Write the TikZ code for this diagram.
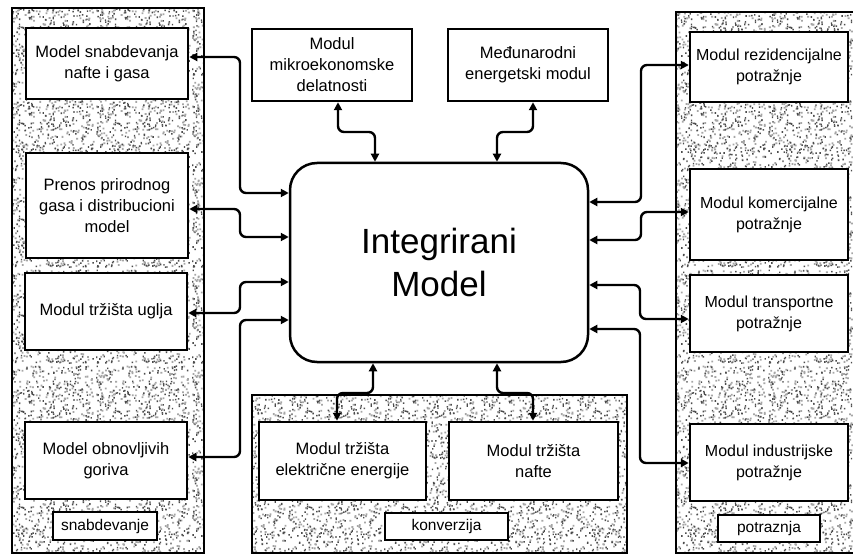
\documentclass[tikz,border=0pt]{standalone}
\usepackage{fontspec}
\setmainfont{Liberation Sans}
\usetikzlibrary{arrows.meta,patterns}
\pgfdeclarepatternformonly{speckA}{\pgfpointorigin}{\pgfqpoint{96pt}{96pt}}{\pgfqpoint{96pt}{96pt}}{%
  \pgfmathsetseed{11}%
  \foreach \i in {1,...,320}{%
    \pgfmathsetmacro\xa{rnd*94}\pgfmathsetmacro\ya{rnd*94}%
    \pgfpathrectangle{\pgfqpoint{\xa pt}{\ya pt}}{\pgfqpoint{1.4pt}{1.6pt}}\pgfusepath{fill}}}
\pgfdeclarepatternformonly{speckB}{\pgfpointorigin}{\pgfqpoint{96pt}{96pt}}{\pgfqpoint{96pt}{96pt}}{%
  \pgfmathsetseed{23}%
  \foreach \i in {1,...,320}{%
    \pgfmathsetmacro\xa{rnd*94}\pgfmathsetmacro\ya{rnd*94}%
    \pgfpathrectangle{\pgfqpoint{\xa pt}{\ya pt}}{\pgfqpoint{1.8pt}{1.8pt}}\pgfusepath{fill}}}
\tikzset{
  box/.style={draw, line width=2.5pt, fill=white, inner sep=0pt, align=center,
    font=\fontsize{16.5}{21}\selectfont},
  rbox/.style={box, font=\fontsize{16}{21}\selectfont},
  lbl/.style={draw, line width=2.3pt, fill=white, inner sep=0pt,
    font=\fontsize{15.5}{18}\selectfont},
  panel/.style={draw, line width=2.5pt},
  speck/.style={pattern=speckA, pattern color=black!70},
  speckb/.style={pattern=speckB, pattern color=black!35},
  conn/.style={line width=2.4pt, rounded corners=6pt,
    {Triangle[length=8pt,width=8pt]}-{Triangle[length=8pt,width=8pt]}},
}
\begin{document}
\begin{tikzpicture}[x=1pt,y=-1pt]
\useasboundingbox (0,0) rectangle (853,556);
% panels
\fill[white] (12,8) rectangle (204,553);
\fill[speckb] (12,8) rectangle (204,553);
\fill[speck] (12,8) rectangle (204,553);
\draw[panel] (12,8) rectangle (204,553);
\fill[white] (676,12) rectangle (858,553);
\fill[speckb] (676,12) rectangle (858,553);
\fill[speck] (676,12) rectangle (858,553);
\draw[panel] (676,12) rectangle (858,553);
\fill[white] (252,395) rectangle (627,553);
\fill[speckb] (252,395) rectangle (627,553);
\fill[speck] (252,395) rectangle (627,553);
\draw[panel] (252,395) rectangle (627,553);

% left boxes
\node[box, minimum width=162pt, minimum height=71pt] (sn) at (107,63.5) {Model snabdevanja\\nafte i gasa};
\node[box, minimum width=162pt, minimum height=105pt] (pg) at (107,205.5) {Prenos prirodnog\\gasa i distribucioni\\model};
\node[box, minimum width=162pt, minimum height=77pt] (tu) at (106,311.5) {Modul tržišta uglja};
\node[box, minimum width=162pt, minimum height=77pt] (og) at (106,460.5) {Model obnovljivih\\goriva};
\node[lbl, minimum width=104pt, minimum height=28pt] (ls) at (105,526) {snabdevanje};

% top boxes
\node[box, minimum width=160pt, minimum height=72pt] (mk) at (332,65) {Modul\\mikroekonomske\\delatnosti};
\node[box, minimum width=160pt, minimum height=72pt] (me) at (528,65) {Međunarodni\\energetski modul};

% central
\node[draw, line width=2.5pt, rounded corners=27pt, fill=white, minimum width=298pt, minimum height=199pt,
  align=center, font=\fontsize{35}{43}\selectfont] (ce) at (439,262.5) {Integrirani\\Model};

% right boxes
\node[rbox, minimum width=158pt, minimum height=70pt] (rz) at (769,67) {Modul rezidencijalne\\potražnje};
\node[rbox, minimum width=158pt, minimum height=91pt] (ko) at (769,214.5) {Modul komercijalne\\potražnje};
\node[rbox, minimum width=158pt, minimum height=77pt] (tr) at (769,313.5) {Modul transportne\\potražnje};
\node[rbox, minimum width=158pt, minimum height=77pt] (in) at (769,462.5) {Modul industrijske\\potražnje};
\node[lbl, minimum width=102pt, minimum height=27pt] (lp) at (769,528.5) {potraznja};

% bottom boxes
\node[box, minimum width=167pt, minimum height=78pt] (el) at (342.5,461) {Modul tržišta\\električne energije};
\node[box, minimum width=169pt, minimum height=78pt] (na) at (533.5,461) {Modul tržišta\\nafte};
\node[lbl, minimum width=123pt, minimum height=27pt] (lk) at (446.5,526.5) {konverzija};

% connectors left
\draw[conn] (sn.east |- 0,57) -- (240,57) -- (240,193) -- (ce.west |- 0,193);
\draw[conn] (pg.east |- 0,209) -- (240,209) -- (240,237) -- (ce.west |- 0,237);
\draw[conn] (tu.east |- 0,313) -- (240,313) -- (240,282) -- (ce.west |- 0,282);
\draw[conn] (og.east |- 0,457) -- (240,457) -- (240,320) -- (ce.west |- 0,320);
% top
\draw[conn] (mk.south -| 338,0) -- (338,132) -- (375,132) -- (ce.north -| 375,0);
\draw[conn] (me.south -| 533,0) -- (533,132) -- (497,132) -- (ce.north -| 497,0);
% right
\draw[conn] (ce.east |- 0,202) -- (641,202) -- (641,65) -- (rz.west |- 0,65);
\draw[conn] (ce.east |- 0,240) -- (641,240) -- (641,212) -- (ko.west |- 0,212);
\draw[conn] (ce.east |- 0,285) -- (640,285) -- (640,319) -- (tr.west |- 0,319);
\draw[conn] (ce.east |- 0,329) -- (640,329) -- (640,463) -- (in.west |- 0,463);
% bottom
\draw[conn] (ce.south -| 373,0) -- (373,393) -- (337,393) -- (el.north -| 337,0);
\draw[conn] (ce.south -| 497,0) -- (497,393) -- (533,393) -- (na.north -| 533,0);
\end{tikzpicture}
\end{document}
